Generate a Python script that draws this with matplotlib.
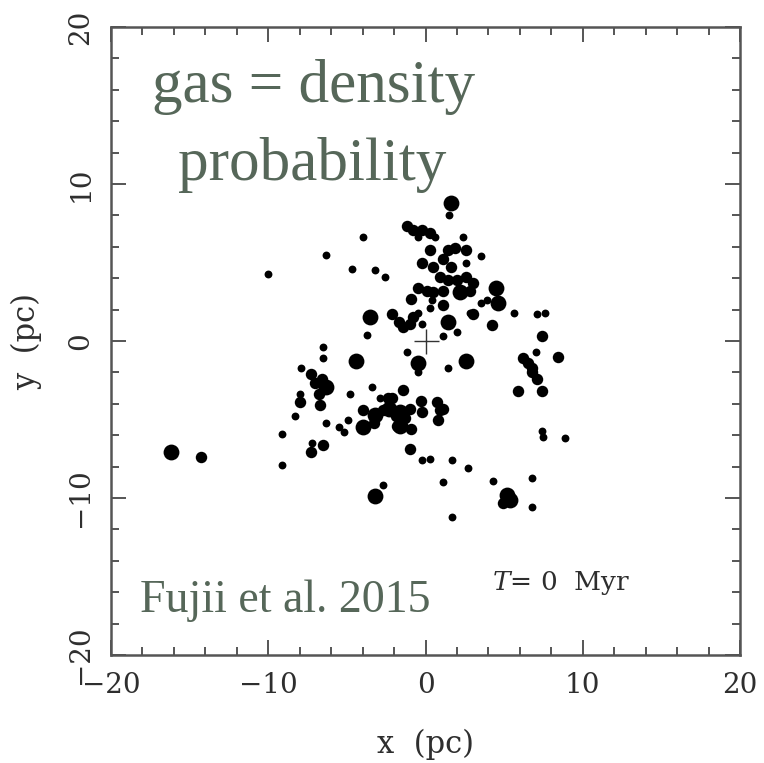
import numpy as np
import matplotlib
matplotlib.use("Agg")
import matplotlib.pyplot as plt

plt.rcParams['mathtext.fontset'] = 'dejavuserif'

# star positions (pc), with a rough size class
x_small = [1.5, -0.5, 0.6, 2.4, 3.5, -2.6, 2.6, 3.5, 3.9, 5.6, 7.1, 7.6, 0.4,
           2.8, -0.2, 2.0, 1.1, -0.5, 0.3, -1.2, -0.5, 1.4, 7.0, 6.8, 6.8,
           4.3, 2.7, 1.7, 1.1, 1.7, -0.2, 0.3, -2.7, -10.0, -6.3, -4.0, -4.7,
           -3.2, -3.7, -6.5, -6.5, -7.9, -8.0, -8.3, -9.1, -6.3, -5.5, -5.2,
           -4.9, -4.8, -3.4, -2.9, -9.1, -7.2, 7.4, 7.5, 8.9]
y_small = [8.0, 6.6, 6.6, 6.6, 5.4, 4.1, 5.0, 2.4, 2.6, 1.8, 1.7, 1.8, 2.6,
           1.8, 1.1, 0.6, 0.3, 1.8, 2.1, -0.7, -2.0, -1.7, -0.7, -8.7, -10.6,
           -8.9, -8.1, -7.6, -9.0, -11.2, -7.6, -7.5, -9.2, 4.3, 5.5, 6.6, 4.6,
           4.5, 0.4, -0.4, -1.1, -1.7, -3.4, -4.8, -5.9, -5.2, -5.5, -5.8,
           -5.0, -3.4, -2.9, -3.6, -7.9, -6.5, -5.7, -6.1, -6.2]

x_mid = [-1.2, -0.8, -0.2, 0.3, 0.3, 1.4, 1.9, 2.6, -0.2, 0.5, 1.1, 1.6, 0.9,
         1.4, 2.0, 2.6, 3.0, -0.5, 0.1, 0.5, 1.1, 2.8, -0.9, 1.1, 3.0, 4.2,
         7.4, -2.1, -1.7, -1.4, -1.0, -0.8, 8.4, 6.2, 6.5, 6.8, 6.8, 7.1, 5.9,
         7.4, 4.9, -1.0, -7.3, -7.0, -6.6, -8.0, -6.8, -6.7, -2.1, -4.0,
         -3.3, -2.7, -1.8, -7.3, -6.5, -14.3, -1.4, -1.0, -0.3, -0.2, 0.7,
         0.9, 1.1, 0.8, -0.9, -1.9, -1.3, -2.4]
y_mid = [7.3, 7.1, 7.1, 6.9, 5.8, 5.8, 5.9, 5.8, 5.0, 4.7, 5.2, 4.7, 4.1, 3.9,
         3.9, 4.1, 3.7, 3.4, 3.2, 3.1, 3.2, 3.2, 2.7, 2.3, 1.7, 1.0, 0.3, 1.7,
         1.2, 0.9, 1.1, 1.5, -1.0, -1.1, -1.4, -1.7, -2.0, -2.4, -3.2, -3.2,
         -10.3, -6.9, -2.1, -2.7, -2.4, -3.9, -3.4, -4.1, -3.6, -4.4, -5.2,
         -4.4, -5.4, -7.1, -6.6, -7.4, -3.1, -4.3, -3.8, -4.5, -3.9, -4.4,
         -4.3, -5.0, -5.6, -4.8, -4.9, -3.6]

x_big = [1.6, 4.5, 2.2, 4.6, 1.4, -0.5, 2.6, 5.2, 5.4, -3.2, -3.5, -4.4,
         -6.3, -4.0, -16.2, -2.3, -1.6, -1.6, -3.2]
y_big = [8.8, 3.4, 3.1, 2.4, 1.2, -1.4, -1.3, -9.8, -10.1, -9.9, 1.5, -1.3,
         -2.9, -5.5, -7.1, -4.3, -4.5, -5.4, -4.7]

x_ticks = [-20, -10, 0, 10, 20]
y_ticks = [-20, -10, 0, 10, 20]

fig = plt.figure(figsize=(7.64, 7.63), dpi=100)
ax = fig.add_axes([0.1453, 0.1415, 0.8233, 0.8231])

ax.scatter(x_small, y_small, s=32, c='black', linewidths=0)
ax.scatter(x_mid, y_mid, s=68, c='black', linewidths=0)
ax.scatter(x_big, y_big, s=130, c='black', linewidths=0)
# centre of mass marker
ax.plot([0], [0], marker='+', markersize=18, mew=1.0, color='#333333')

ax.set_xlim(-20, 20)
ax.set_ylim(-20, 20)
ax.set_xticks(x_ticks)
ax.set_yticks(y_ticks)
ax.set_xticklabels(['\u221220', '\u221210', '0', '10', '20'])
ax.set_yticklabels(['\u221220', '\u221210', '0', '10', '20'], rotation=90, va='center')
ax.set_xticks(np.arange(-20, 21, 2), minor=True)
ax.set_yticks(np.arange(-20, 21, 2), minor=True)
ax.tick_params(which='both', direction='in', top=True, right=True,
               color='#555555', width=1.4, labelcolor='#2e2e2e')
ax.tick_params(which='major', length=11, labelsize=20, pad=12)
ax.tick_params(which='minor', length=5.5)
for lab in ax.get_xticklabels() + ax.get_yticklabels():
    lab.set_family('DejaVu Serif')
for sp in ax.spines.values():
    sp.set_color('#555555')
    sp.set_linewidth(1.8)

ax.set_xlabel('x  (pc)', family='DejaVu Serif', fontsize=22, color='#2e2e2e', labelpad=22)
ax.set_ylabel('y  (pc)', family='DejaVu Serif', fontsize=22, color='#2e2e2e', labelpad=18)

ax.text(4.2, -15.4, '$T$= 0  Myr', family='DejaVu Serif', fontsize=19,
        color='#2e2e2e', va='center', ha='left')

green = '#566759'
fig.text(0.411, 0.8663, 'gas = density', family='Liberation Serif', fontsize=44,
         color=green, ha='center', va='baseline')
fig.text(0.409, 0.764, 'probability', family='Liberation Serif', fontsize=44,
         color=green, ha='center', va='baseline')
fig.text(0.1832, 0.1979, 'Fujii et al. 2015', family='Liberation Serif', fontsize=33,
         color=green, ha='left', va='baseline')

fig.savefig('out.png', dpi=100)
